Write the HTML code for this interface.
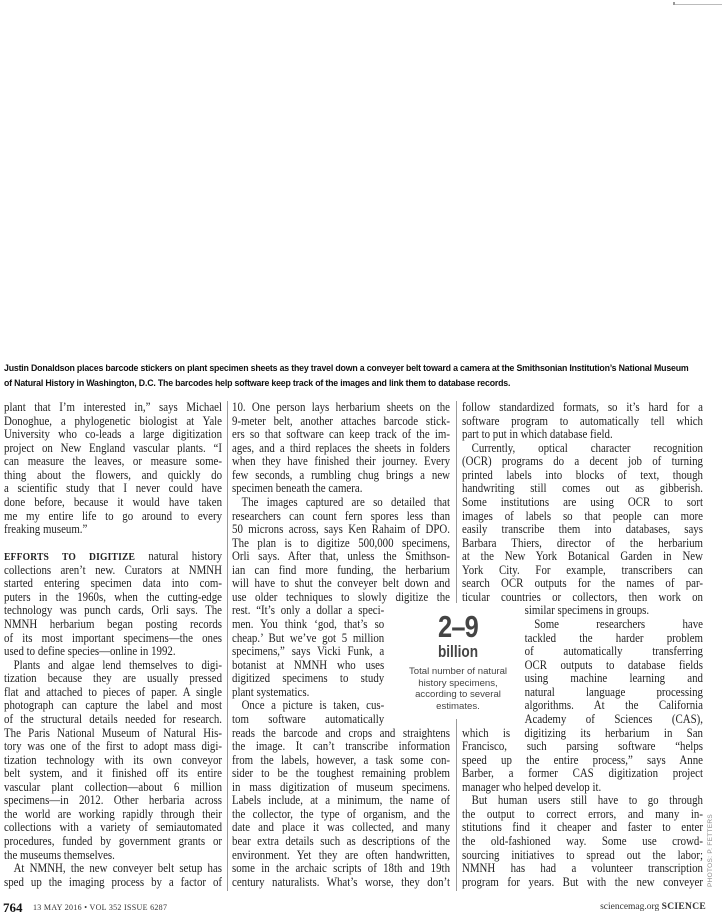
<!DOCTYPE html>
<html><head><meta charset="utf-8">
<style>
body{margin:0;width:722px;height:917px;background:#fff;position:relative;overflow:hidden;font-family:"Liberation Serif",serif;color:#222}
.cap{position:absolute;left:4px;font-family:"Liberation Sans",sans-serif;font-weight:bold;font-size:9.3px;line-height:15px;color:#111;letter-spacing:-0.2px;white-space:nowrap;transform-origin:0 0;transform:scaleX(0.945)}
.col{position:absolute;top:401px;transform-origin:0 0;transform:scaleX(0.87)}
.l{height:13.57px;line-height:13.57px;font-size:12.5px;text-align:justify;text-align-last:justify;overflow:hidden;white-space:nowrap}
.e{text-align-last:left}
.i{text-indent:11px}
.sc{font-weight:bold;font-size:11px;letter-spacing:0.2px}
.div{position:absolute;width:1px;background:#999}
.pq{position:absolute;left:396px;top:612px;width:124px;text-align:center;font-family:"Liberation Sans",sans-serif;color:#444}
</style></head><body>
<div style="position:absolute;left:674px;top:4px;width:48px;height:1px;background:#bbb"></div>
<div style="position:absolute;left:673px;top:2px;width:2px;height:3px;background:#999"></div>
<div class="cap" style="top:361px">Justin Donaldson places barcode stickers on plant specimen sheets as they travel down a conveyer belt toward a camera at the Smithsonian Institution’s National Museum</div>
<div class="cap" style="top:376px">of Natural History in Washington, D.C. The barcodes help software keep track of the images and link them to database records.</div>

<div class="div" style="left:227px;top:401px;height:490px"></div>
<div class="div" style="left:456px;top:401px;height:202px"></div>
<div class="div" style="left:456px;top:719px;height:172px"></div>

<div class="col" style="left:4px;width:250.6px">
<div class="l">plant that I’m interested in,” says Michael</div>
<div class="l">Donoghue, a phylogenetic biologist at Yale</div>
<div class="l">University who co-leads a large digitization</div>
<div class="l">project on New England vascular plants. “I</div>
<div class="l">can measure the leaves, or measure some-</div>
<div class="l">thing about the flowers, and quickly do</div>
<div class="l">a scientific study that I never could have</div>
<div class="l">done before, because it would have taken</div>
<div class="l">me my entire life to go around to every</div>
<div class="l e">freaking museum.”</div>
<div class="l e">&nbsp;</div>
<div class="l"><span class="sc">EFFORTS TO DIGITIZE</span> natural history</div>
<div class="l">collections aren’t new. Curators at NMNH</div>
<div class="l">started entering specimen data into com-</div>
<div class="l">puters in the 1960s, when the cutting-edge</div>
<div class="l">technology was punch cards, Orli says. The</div>
<div class="l">NMNH herbarium began posting records</div>
<div class="l">of its most important specimens—the ones</div>
<div class="l e">used to define species—online in 1992.</div>
<div class="l i">Plants and algae lend themselves to digi-</div>
<div class="l">tization because they are usually pressed</div>
<div class="l">flat and attached to pieces of paper. A single</div>
<div class="l">photograph can capture the label and most</div>
<div class="l">of the structural details needed for research.</div>
<div class="l">The Paris National Museum of Natural His-</div>
<div class="l">tory was one of the first to adopt mass digi-</div>
<div class="l">tization technology with its own conveyor</div>
<div class="l">belt system, and it finished off its entire</div>
<div class="l">vascular plant collection—about 6 million</div>
<div class="l">specimens—in 2012. Other herbaria across</div>
<div class="l">the world are working rapidly through their</div>
<div class="l">collections with a variety of semiautomated</div>
<div class="l">procedures, funded by government grants or</div>
<div class="l e">the museums themselves.</div>
<div class="l i">At NMNH, the new conveyer belt setup has</div>
<div class="l">sped up the imaging process by a factor of</div>
</div>

<div class="col" style="left:232px;width:250.6px">
<div class="l">10. One person lays herbarium sheets on the</div>
<div class="l">9-meter belt, another attaches barcode stick-</div>
<div class="l">ers so that software can keep track of the im-</div>
<div class="l">ages, and a third replaces the sheets in folders</div>
<div class="l">when they have finished their journey. Every</div>
<div class="l">few seconds, a rumbling chug brings a new</div>
<div class="l e">specimen beneath the camera.</div>
<div class="l i">The images captured are so detailed that</div>
<div class="l">researchers can count fern spores less than</div>
<div class="l">50 microns across, says Ken Rahaim of DPO.</div>
<div class="l">The plan is to digitize 500,000 specimens,</div>
<div class="l">Orli says. After that, unless the Smithson-</div>
<div class="l">ian can find more funding, the herbarium</div>
<div class="l">will have to shut the conveyer belt down and</div>
<div class="l">use older techniques to slowly digitize the</div>
<div class="l" style="width:175px">rest. “It’s only a dollar a speci-</div>
<div class="l" style="width:175px">men. You think ‘god, that’s so</div>
<div class="l" style="width:175px">cheap.’ But we’ve got 5 million</div>
<div class="l" style="width:175px">specimens,” says Vicki Funk, a</div>
<div class="l" style="width:175px">botanist at NMNH who uses</div>
<div class="l" style="width:175px">digitized specimens to study</div>
<div class="l e" style="width:175px">plant systematics.</div>
<div class="l i" style="width:175px">Once a picture is taken, cus-</div>
<div class="l" style="width:175px">tom software automatically</div>
<div class="l">reads the barcode and crops and straightens</div>
<div class="l">the image. It can’t transcribe information</div>
<div class="l">from the labels, however, a task some con-</div>
<div class="l">sider to be the toughest remaining problem</div>
<div class="l">in mass digitization of museum specimens.</div>
<div class="l">Labels include, at a minimum, the name of</div>
<div class="l">the collector, the type of organism, and the</div>
<div class="l">date and place it was collected, and many</div>
<div class="l">bear extra details such as descriptions of the</div>
<div class="l">environment. Yet they are often handwritten,</div>
<div class="l">some in the archaic scripts of 18th and 19th</div>
<div class="l">century naturalists. What’s worse, they don’t</div>
</div>

<div class="col" style="left:462px;width:277px">
<div class="l">follow standardized formats, so it’s hard for a</div>
<div class="l">software program to automatically tell which</div>
<div class="l e">part to put in which database field.</div>
<div class="l i">Currently, optical character recognition</div>
<div class="l">(OCR) programs do a decent job of turning</div>
<div class="l">printed labels into blocks of text, though</div>
<div class="l">handwriting still comes out as gibberish.</div>
<div class="l">Some institutions are using OCR to sort</div>
<div class="l">images of labels so that people can more</div>
<div class="l">easily transcribe them into databases, says</div>
<div class="l">Barbara Thiers, director of the herbarium</div>
<div class="l">at the New York Botanical Garden in New</div>
<div class="l">York City. For example, transcribers can</div>
<div class="l">search OCR outputs for the names of par-</div>
<div class="l">ticular countries or collectors, then work on</div>
<div class="l e" style="margin-left:72px;width:205px">similar specimens in groups.</div>
<div class="l i" style="margin-left:72px;width:205px">Some researchers have</div>
<div class="l" style="margin-left:72px;width:205px">tackled the harder problem</div>
<div class="l" style="margin-left:72px;width:205px">of automatically transferring</div>
<div class="l" style="margin-left:72px;width:205px">OCR outputs to database fields</div>
<div class="l" style="margin-left:72px;width:205px">using machine learning and</div>
<div class="l" style="margin-left:72px;width:205px">natural language processing</div>
<div class="l" style="margin-left:72px;width:205px">algorithms. At the California</div>
<div class="l" style="margin-left:72px;width:205px">Academy of Sciences (CAS),</div>
<div class="l">which is digitizing its herbarium in San</div>
<div class="l">Francisco, such parsing software “helps</div>
<div class="l">speed up the entire process,” says Anne</div>
<div class="l">Barber, a former CAS digitization project</div>
<div class="l e">manager who helped develop it.</div>
<div class="l i">But human users still have to go through</div>
<div class="l">the output to correct errors, and many in-</div>
<div class="l">stitutions find it cheaper and faster to enter</div>
<div class="l">the old-fashioned way. Some use crowd-</div>
<div class="l">sourcing initiatives to spread out the labor;</div>
<div class="l">NMNH has had a volunteer transcription</div>
<div class="l">program for years. But with the new conveyer</div>
</div>

<div class="pq">
<div style="font-size:31px;font-weight:bold;line-height:30px;transform:scaleX(0.82);letter-spacing:-1px">2–9</div>
<div style="font-size:17px;font-weight:bold;line-height:20px;transform:scaleX(0.8)">billion</div>
<div style="font-size:9.6px;line-height:11.5px;margin-top:4px">Total number of natural<br>history specimens,<br>according to several<br>estimates.</div>
</div>

<div style="position:absolute;left:707px;top:887px;transform:rotate(-90deg);transform-origin:0 0;font-family:'Liberation Sans',sans-serif;font-size:6.5px;color:#888;white-space:nowrap;letter-spacing:0.3px">PHOTOS: P. FETTERS</div>

<div style="position:absolute;left:3px;top:900px;font-weight:bold;font-size:13px;color:#111">764</div>
<div style="position:absolute;left:33px;top:903px;font-size:8px;color:#333;letter-spacing:0.3px">13 MAY 2016 • VOL 352 ISSUE 6287</div>
<div style="position:absolute;right:16px;top:902px;font-size:9.5px;color:#333">sciencemag.org <b style="letter-spacing:0.3px">SCIENCE</b></div>
</body></html>
